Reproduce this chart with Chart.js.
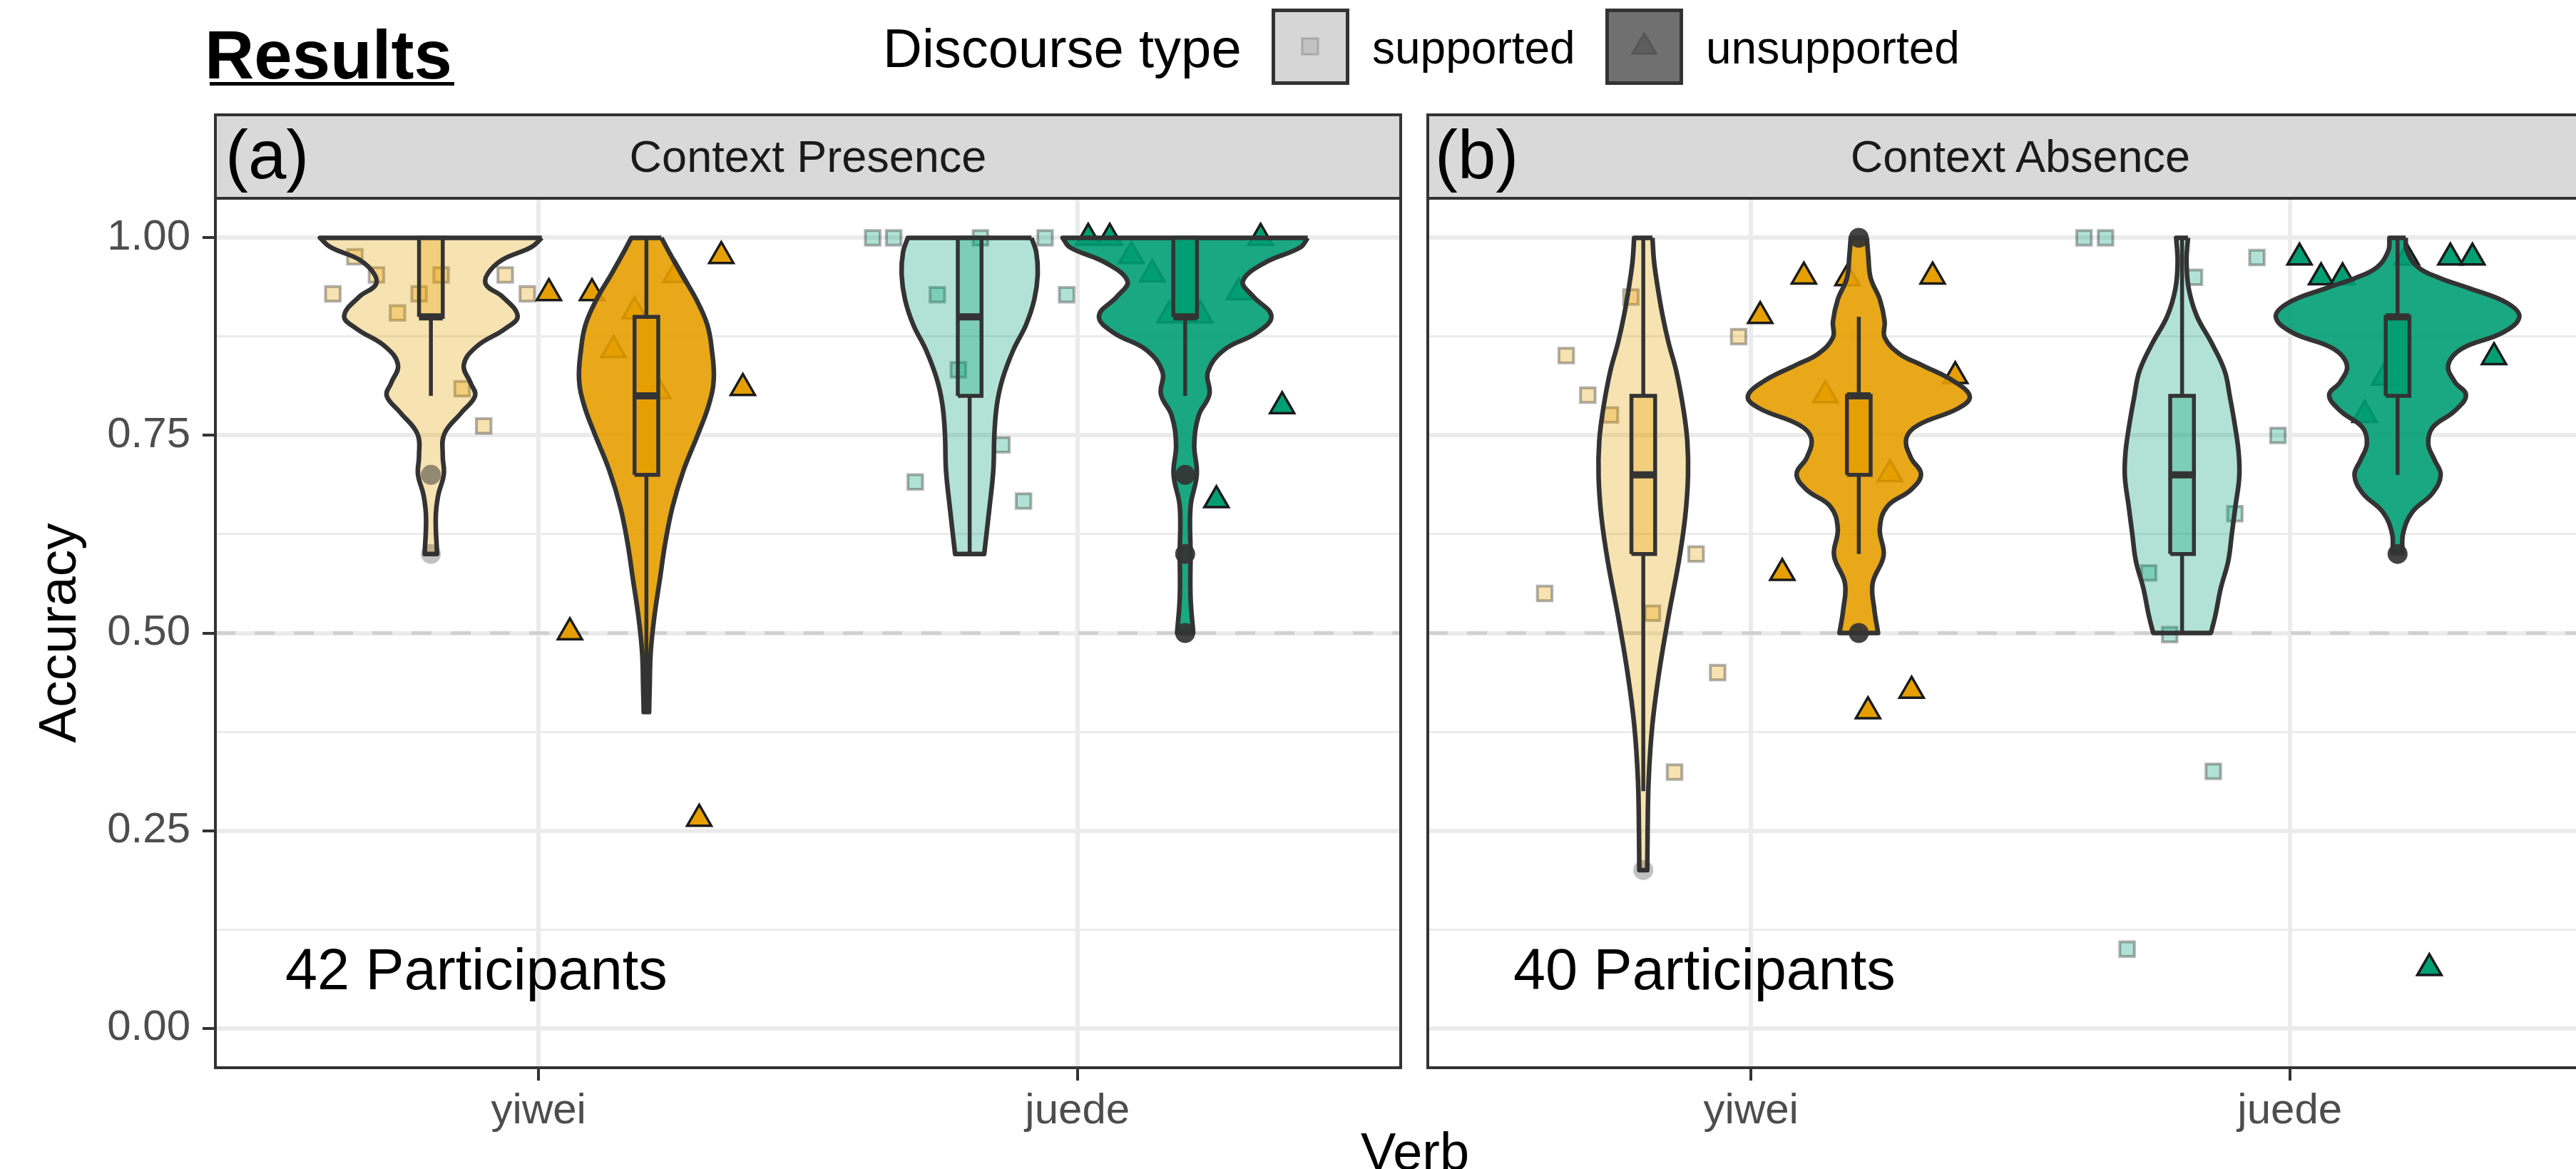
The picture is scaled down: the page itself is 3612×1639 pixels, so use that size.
<!DOCTYPE html>
<html>
<head>
<meta charset="utf-8">
<script src="https://cdn.jsdelivr.net/npm/chart.js@4.4.1/dist/chart.umd.min.js"></script>
<style>
  html, body { margin: 0; padding: 0; overflow: hidden; background: #fff; }
  body { width: 3612px; height: 1639px; position: relative; font-family: 'Liberation Sans', Arial, sans-serif; }
  .txt { position: absolute; white-space: nowrap; line-height: 1; }
  canvas { position: absolute; }
  .strip { position: absolute; box-sizing: border-box; background: #d9d9d9; border: 4px solid #333; }
  .key { position: absolute; box-sizing: border-box; width: 109px; height: 107px; border: 5px solid #333; }
</style>
</head>
<body>
<div class="txt" style="left:287px;top:29px;font-size:96px;font-weight:bold;">Results</div>
<div style="position:absolute;left:294px;top:115px;width:343px;height:5px;background:#000;"></div>

<div class="txt" style="left:1238px;top:30px;font-size:76px;">Discourse type</div>
<div class="key" style="left:1783px;top:12px;background:#d6d6d6;">
  <svg width="99" height="97" style="position:absolute;left:0;top:0"><rect x="38" y="37" width="22" height="22" fill="#c2c2c2" stroke="#a8a8a8" stroke-width="3"/></svg>
</div>
<div class="txt" style="left:1924px;top:35px;font-size:64px;">supported</div>
<div class="key" style="left:2251px;top:12px;background:#707070;">
  <svg width="99" height="97" style="position:absolute;left:0;top:0"><polygon points="49.5,30 66,58 33,58" fill="#5e5e5e" stroke="#565656" stroke-width="3"/></svg>
</div>
<div class="txt" style="left:2392px;top:35px;font-size:64px;">unsupported</div>

<div class="strip" style="left:300px;top:159px;width:1666px;height:121px;"></div>
<div class="txt" style="left:316px;top:169px;font-size:96px;">(a)</div>
<div class="txt" style="left:833px;top:188px;width:600px;text-align:center;font-size:63px;color:#1a1a1a;">Context Presence</div>

<div class="strip" style="left:2000px;top:159px;width:1666px;height:121px;"></div>
<div class="txt" style="left:2012px;top:169px;font-size:96px;">(b)</div>
<div class="txt" style="left:2533px;top:188px;width:600px;text-align:center;font-size:63px;color:#1a1a1a;">Context Absence</div>

<canvas id="panelA" width="1980" height="1371" style="left:0;top:268px;"></canvas>
<canvas id="panelB" width="1690" height="1371" style="left:1990px;top:268px;"></canvas>

<div class="txt" style="left:400px;top:1319px;font-size:81px;">42 Participants</div>
<div class="txt" style="left:2122px;top:1319px;font-size:81px;">40 Participants</div>
<div class="txt" style="left:1784px;top:1578px;width:400px;text-align:center;font-size:74px;">Verb</div>

<script>
const verbs = ['yiwei', 'juede'];
const discourseTypes = ['supported', 'unsupported'];
const yTicks = [0, 0.25, 0.5, 0.75, 1];
const yMinorTicks = [0.125, 0.375, 0.625, 0.875];
const chanceLevel = 0.5;

// violin outlines: [accuracy, half width in verb units]
// (a) Context Presence
const presYiweiSupViolin = [[1.000,0.206],[0.988,0.186],[0.972,0.132],[0.954,0.105],[0.940,0.103],[0.926,0.132],[0.901,0.161],[0.885,0.138],[0.862,0.084],[0.839,0.061],[0.816,0.074],[0.800,0.082],[0.779,0.057],[0.752,0.025],[0.724,0.022],[0.701,0.024],[0.674,0.0135],[0.646,0.009],[0.600,0.0115]];
const presYiweiUnsViolin = [[1.000,0.028],[0.982,0.042],[0.954,0.065],[0.922,0.0925],[0.890,0.113],[0.858,0.1215],[0.821,0.125],[0.789,0.116],[0.752,0.096],[0.706,0.069],[0.660,0.0486],[0.614,0.035],[0.568,0.025],[0.522,0.015],[0.476,0.008],[0.430,0.006],[0.400,0.005]];
const presJuedeSupViolin = [[1.000,0.1148],[0.982,0.1236],[0.954,0.1263],[0.922,0.120],[0.890,0.1047],[0.858,0.081],[0.821,0.0608],[0.789,0.0506],[0.752,0.0459],[0.706,0.0439],[0.660,0.037],[0.600,0.027]];
const presJuedeUnsViolin = [[1.000,0.2275],[0.988,0.214],[0.968,0.1465],[0.945,0.107],[0.926,0.126],[0.901,0.160],[0.880,0.133],[0.858,0.072],[0.830,0.042],[0.802,0.045],[0.775,0.025],[0.738,0.0169],[0.701,0.0216],[0.660,0.010],[0.600,0.010],[0.545,0.010],[0.500,0.015]];
// (b) Context Absence
const absYiweiSupViolin = [[1.000,0.017],[0.970,0.020],[0.936,0.027],[0.901,0.036],[0.867,0.047],[0.832,0.061],[0.784,0.0743],[0.743,0.0817],[0.698,0.083],[0.646,0.0776],[0.591,0.066],[0.522,0.047],[0.453,0.030],[0.384,0.0169],[0.315,0.010],[0.247,0.008],[0.200,0.0074]];
const absYiweiUnsViolin = [[1.000,0.0149],[0.977,0.0176],[0.949,0.022],[0.922,0.039],[0.894,0.048],[0.874,0.048],[0.853,0.076],[0.839,0.117],[0.818,0.1776],[0.799,0.206],[0.784,0.184],[0.763,0.110],[0.746,0.088],[0.722,0.0965],[0.701,0.1155],[0.681,0.0965],[0.660,0.0527],[0.632,0.039],[0.598,0.046],[0.563,0.0257],[0.529,0.029],[0.500,0.0358]];
const absJuedeSupViolin = [[1.000,0.011],[0.970,0.0082],[0.936,0.0123],[0.901,0.0274],[0.867,0.0548],[0.832,0.0788],[0.798,0.089],[0.763,0.098],[0.729,0.1049],[0.698,0.1062],[0.660,0.099],[0.626,0.0925],[0.591,0.0857],[0.557,0.072],[0.522,0.0617],[0.500,0.0535]];
const absJuedeUnsViolin = [[1.000,0.0151],[0.984,0.017],[0.963,0.0377],[0.949,0.0788],[0.936,0.1336],[0.918,0.202],[0.900,0.226],[0.880,0.195],[0.860,0.12],[0.839,0.094],[0.818,0.106],[0.801,0.127],[0.781,0.106],[0.760,0.065],[0.739,0.057],[0.719,0.0685],[0.700,0.080],[0.677,0.065],[0.653,0.0274],[0.626,0.0103],[0.601,0.009]];

// box stats [lower whisker, q1, median, q3, upper whisker]; order: yiwei sup, yiwei uns, juede sup, juede uns
const presBoxes = [[0.8,0.9,0.9,1.0,1.0],[0.4,0.7,0.8,0.9,1.0],[0.6,0.8,0.9,1.0,1.0],[0.8,0.9,0.9,1.0,1.0]];
const presOutliers = [[0.7,0.7,0.6],[],[],[0.7,0.6,0.5]];
const absBoxes = [[0.3,0.6,0.7,0.8,1.0],[0.6,0.7,0.8,0.8,0.9],[0.5,0.6,0.7,0.8,1.0],[0.7,0.8,0.9,0.9,1.0]];
const absOutliers = [[0.2],[1.0,0.5],[],[0.6]];

// jittered participant points [x in verb units, accuracy]
const presYiweiSupPoints = [[0.659,0.976],[0.699,0.953],[0.819,0.953],[0.618,0.929],[0.778,0.929],[0.938,0.953],[0.979,0.929],[0.738,0.905],[0.858,0.809],[0.898,0.762]];
const presYiweiUnsPoints = [[1.019,0.930],[1.099,0.930],[1.178,0.907],[1.139,0.858],[1.254,0.953],[1.222,0.806],[1.339,0.977],[1.379,0.810],[1.058,0.501],[1.298,0.265]];
const presJuedeSupPoints = [[1.620,1.0],[1.659,1.0],[1.820,1.0],[1.940,1.0],[1.740,0.928],[1.980,0.928],[1.779,0.833],[1.860,0.738],[1.699,0.691],[1.900,0.667]];
const presJuedeUnsPoints = [[2.020,1.0],[2.060,1.0],[2.340,1.0],[2.100,0.977],[2.139,0.954],[2.300,0.931],[2.171,0.902],[2.228,0.902],[2.380,0.787],[2.258,0.668]];
const absYiweiSupPoints = [[0.777,0.925],[0.657,0.851],[0.697,0.801],[0.739,0.776],[0.977,0.875],[0.898,0.600],[0.617,0.550],[0.817,0.525],[0.938,0.450],[0.858,0.324]];
const absYiweiUnsPoints = [[1.017,0.901],[1.098,0.951],[1.179,0.949],[1.337,0.951],[1.379,0.825],[1.138,0.801],[1.258,0.701],[1.058,0.576],[1.217,0.401],[1.298,0.427]];
const absJuedeSupPoints = [[1.618,1.0],[1.658,1.0],[1.939,0.975],[1.823,0.950],[1.978,0.750],[1.898,0.651],[1.738,0.576],[1.777,0.498],[1.858,0.325],[1.698,0.100]];
const absJuedeUnsPoints = [[2.018,0.975],[2.058,0.950],[2.098,0.950],[2.217,0.975],[2.298,0.975],[2.339,0.975],[2.379,0.849],[2.175,0.823],[2.139,0.776],[2.259,0.076]];

const LINE = '#333333';
const TYPE_COLORS = [[230, 159, 0], [0, 158, 115]]; // yiwei, juede
const rgba = (c, a) => `rgba(${c[0]},${c[1]},${c[2]},${a})`;
const DODGE = 0.2;
const BOX_HALF = 0.022;

Chart.defaults.font.family = "'Liberation Sans', Arial, sans-serif";

// closed outline: right side top->bottom, left side bottom->top; ends doubled so they stay flat
function violinPath(center, outline) {
  const right = outline.map(([y, w]) => ({ x: center + w, y }));
  const left = outline.slice().reverse().map(([y, w]) => ({ x: center - w, y }));
  return [right[0], ...right, right[right.length - 1], left[0], ...left, left[left.length - 1], right[0]];
}

function groupDatasets(verbIdx, typeIdx, outline, box, outliers, points) {
  const sup = typeIdx === 0;
  const col = TYPE_COLORS[verbIdx];
  const c = verbIdx + 1 + (sup ? -DODGE : DODGE);
  const [lo, q1, med, q3, hi] = box;
  const line = { showLine: true, fill: false, pointRadius: 0, borderColor: LINE };
  return [
    {
      data: points.map(([x, y]) => ({ x, y })), showLine: false, order: 90,
      pointStyle: sup ? 'rect' : 'triangle', pointRadius: sup ? 14.5 : 19.5,
      pointBackgroundColor: sup ? rgba(col, 0.3) : rgba(col, 1),
      pointBorderColor: sup ? 'rgba(0,0,0,0.3)' : '#1a1a1a', pointBorderWidth: sup ? 4 : 3.5,
    },
    {
      ...line, data: violinPath(c, outline), fill: 'shape', order: 80, tension: 0.4,
      backgroundColor: rgba(col, sup ? 0.3 : 0.9), borderWidth: 6.5, borderJoinStyle: 'round',
    },
    { ...line, data: [{ x: c, y: lo }, { x: c, y: q1 }], borderWidth: 5.5, order: 75 },
    { ...line, data: [{ x: c, y: q3 }, { x: c, y: hi }], borderWidth: 5.5, order: 75 },
    {
      ...line, order: 70, fill: 'shape', tension: 0, borderWidth: 5.5,
      backgroundColor: rgba(col, sup ? 0.3 : 0.9),
      data: [{ x: c - BOX_HALF, y: q1 }, { x: c + BOX_HALF, y: q1 }, { x: c + BOX_HALF, y: q3 }, { x: c - BOX_HALF, y: q3 }, { x: c - BOX_HALF, y: q1 }],
    },
    { ...line, data: [{ x: c - BOX_HALF, y: med }, { x: c + BOX_HALF, y: med }], borderWidth: 10, borderCapStyle: 'butt', order: 60 },
    {
      data: outliers.map(y => ({ x: c, y })), showLine: false, order: 50,
      pointStyle: 'circle', pointRadius: 14, pointBorderWidth: 0,
      pointBackgroundColor: sup ? 'rgba(51,51,51,0.3)' : 'rgba(51,51,51,0.92)',
    },
  ];
}

const panelBorder = {
  id: 'panelBorder',
  afterDatasetsDraw(chart) {
    const { ctx, chartArea: a } = chart;
    ctx.save();
    ctx.strokeStyle = LINE;
    ctx.lineWidth = 4;
    ctx.strokeRect(a.left, a.top, a.right - a.left, a.bottom - a.top);
    ctx.restore();
  },
};

const allYTicks = [...yTicks, ...yMinorTicks].sort((a, b) => a - b);
const isMajor = v => yTicks.some(t => Math.abs(t - v) < 1e-9);

function makePanel(id, violins, boxes, outliers, points, showY) {
  const datasets = [{
    data: [{ x: 0.4, y: chanceLevel }, { x: 2.6, y: chanceLevel }],
    showLine: true, fill: false, pointRadius: 0, borderColor: '#d0d0d0', borderWidth: 5,
    borderDash: [28, 27], order: 100,
  }];
  for (let g = 0; g < 4; g++) {
    const verbIdx = Math.floor(g / 2), typeIdx = g % 2;
    datasets.push(...groupDatasets(verbIdx, typeIdx, violins[g], boxes[g], outliers[g], points[g]));
  }
  return new Chart(document.getElementById(id), {
    type: 'scatter',
    data: { datasets },
    options: {
      responsive: false, animation: false, events: [], devicePixelRatio: 1,
      layout: { autoPadding: false, padding: { left: 0, top: 10, right: 16, bottom: 0 } },
      plugins: { legend: { display: false }, tooltip: { enabled: false } },
      scales: {
        x: {
          type: 'linear', min: 0.4, max: 2.6,
          afterBuildTicks: s => { s.ticks = verbs.map((v, i) => ({ value: i + 1 })); },
          afterFit: s => { s.height = 142; s.paddingLeft = 0; s.paddingRight = 0; },
          ticks: { callback: v => verbs[Math.round(v) - 1] || '', font: { size: 60 }, color: '#4d4d4d', padding: 7, autoSkip: false, maxRotation: 0 },
          grid: { color: '#ebebeb', lineWidth: 6, tickColor: LINE, tickWidth: 4, tickLength: 18 },
          border: { display: false },
        },
        y: {
          min: -0.05, max: 1.05,
          afterBuildTicks: s => { s.ticks = allYTicks.map(v => ({ value: v })); },
          afterFit: s => { s.width = showY ? 302 : 12; s.paddingTop = 0; s.paddingBottom = 0; },
          ticks: {
            display: showY, autoSkip: false, padding: 17, font: { size: 60 }, color: '#4d4d4d',
            callback: v => isMajor(v) ? v.toFixed(2) : '',
          },
          grid: {
            color: '#ebebeb', drawTicks: showY, tickLength: 18, tickWidth: 4,
            lineWidth: ctx => isMajor(ctx.tick.value) ? 6 : 3,
            tickColor: ctx => isMajor(ctx.tick.value) ? LINE : 'rgba(0,0,0,0)',
          },
          border: { display: false },
          title: { display: showY, text: 'Accuracy', font: { size: 75 }, color: '#000', padding: { top: 40, bottom: 0 } },
        },
      },
    },
    plugins: [panelBorder],
  });
}

makePanel('panelA',
  [presYiweiSupViolin, presYiweiUnsViolin, presJuedeSupViolin, presJuedeUnsViolin],
  presBoxes, presOutliers,
  [presYiweiSupPoints, presYiweiUnsPoints, presJuedeSupPoints, presJuedeUnsPoints], true);
makePanel('panelB',
  [absYiweiSupViolin, absYiweiUnsViolin, absJuedeSupViolin, absJuedeUnsViolin],
  absBoxes, absOutliers,
  [absYiweiSupPoints, absYiweiUnsPoints, absJuedeSupPoints, absJuedeUnsPoints], false);
</script>
</body>
</html>
